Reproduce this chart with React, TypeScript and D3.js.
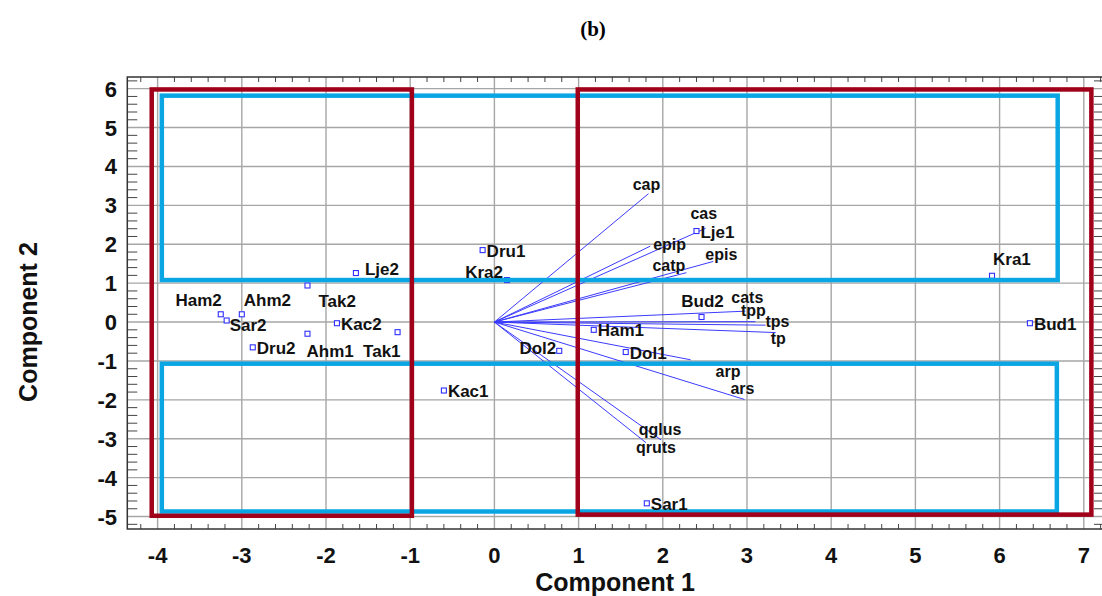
import React from "react";
import * as d3 from "d3";

// PCA biplot, panel (b)
const sampleNames = ["Ham2", "Sar2", "Ahm2", "Tak2", "Lje2", "Kac2", "Ahm1", "Tak1", "Dru2", "Kac1", "Dru1", "Kra2", "Lje1", "Bud2", "Ham1", "Dol2", "Dol1", "Kra1", "Bud1", "Sar1"];
const pc1 = [-3.25, -3.18, -3.0, -2.22, -1.645, -1.87, -2.22, -1.15, -2.87, -0.6, -0.14, 0.15, 2.4, 2.46, 1.18, 0.77, 1.56, 5.91, 6.36, 1.81];
const pc2 = [0.2, 0.04, 0.2, 0.94, 1.26, -0.03, -0.3, -0.26, -0.65, -1.76, 1.85, 1.08, 2.34, 0.13, -0.2, -0.74, -0.77, 1.19, -0.03, -4.66];

const vectorNames = ["cap", "cas", "epip", "catp", "epis", "cats", "tpp", "tps", "tp", "arp", "ars", "qglus", "qruts"];
const loadX = [1.83, 2.51, 1.85, 2.28, 2.6, 2.98, 3.1, 3.22, 3.34, 2.33, 2.97, 1.98, 1.8];
const loadY = [3.3, 2.41, 1.95, 1.27, 1.56, 0.28, 0.01, -0.08, -0.27, -0.97, -1.99, -3.03, -3.1];

// boxes: [x0, x1, y0, y1]
const redBoxes = [[-4.07, -0.98, -4.98, 5.98], [0.99, 7.09, -4.95, 5.98]];
const blueBoxes = [[-3.95, 6.69, 1.08, 5.82], [-3.95, 6.68, -4.87, -1.07]];

const xTicks = [-4, -3, -2, -1, 0, 1, 2, 3, 4, 5, 6, 7];
const yTicks = [6, 5, 4, 3, 2, 1, 0, -1, -2, -3, -4, -5];

// label placement [dx, dy, anchor]
const sampleLabel: Record<string, [number, number, string]> = {
  Ham2: [1, -8, "end"],
  Ahm2: [2, -8, "start"],
  Sar2: [3, 10, "start"],
  Tak2: [11, 22, "start"],
  Lje2: [9, 2, "start"],
  Ahm1: [-1, 23, "start"],
  Tak1: [3, 25, "end"],
  Kra2: [-4, -2, "end"],
  Bud2: [1, -10, "middle"],
  Dol2: [-3, 3, "end"],
  Kra1: [1, -11, "start"],
};
const vectorLabel: Record<string, [number, number, string]> = {
  cap: [-2, -4, "middle"],
  cas: [-2, -9, "middle"],
  epip: [3, 4, "start"],
  catp: [-1, -2, "end"],
  epis: [-8, -1, "start"],
  cats: [2, -8, "middle"],
  tpp: [-2, -6, "middle"],
  tps: [0, 2, "start"],
  tp: [-5, 11, "start"],
  arp: [25, 17, "start"],
  ars: [-2, -5, "middle"],
  qglus: [-1, -5, "middle"],
  qruts: [10, 10, "middle"],
};

const W = 1102;
const H = 596;
const font = "'Liberation Sans', Arial, sans-serif";

export default function App() {
  const x = d3.scaleLinear().domain([-4.36, 7.24]).range([127.3, 1104]);
  const y = d3.scaleLinear().domain([-5.32, 6.3]).range([529, 77]);
  const [x0, x1] = x.range();
  const [y0, y1] = y.range();

  const minorX = d3.range(-4.2, 7.21, 0.2).filter((v) => Math.abs(v - Math.round(v)) > 0.01);
  const minorY = d3.range(-5.2, 6.21, 0.2).filter((v) => Math.abs(v - Math.round(v)) > 0.01);

  const box = (b: number[], color: string, i: number) => (
    <rect
      key={color + i}
      x={x(b[0])}
      y={y(b[3])}
      width={x(b[1]) - x(b[0])}
      height={y(b[2]) - y(b[3])}
      fill="none"
      stroke={color}
      strokeWidth={4.5}
    />
  );

  return (
    <div style={{ position: "absolute", left: 0, top: 0 }}>
      <svg width={W} height={H} style={{ display: "block", background: "#fff" }}>
        <text x={593} y={36} textAnchor="middle" fontFamily="'Liberation Serif', 'Times New Roman', serif" fontWeight="bold" fontSize={21}>
          (b)
        </text>

        {/* grid */}
        {xTicks.map((t) => (
          <line key={"gx" + t} x1={x(t)} x2={x(t)} y1={y0} y2={y1} stroke="#a6a6a6" strokeWidth={1.4} />
        ))}
        {yTicks.map((t) => (
          <line key={"gy" + t} x1={x0} x2={x1} y1={y(t)} y2={y(t)} stroke="#a6a6a6" strokeWidth={1.4} />
        ))}

        {/* minor ticks, inward */}
        {minorX.map((t) => (
          <g key={"mx" + t}>
            <line x1={x(t)} x2={x(t)} y1={y1} y2={y1 + 5} stroke="#444" strokeWidth={1} />
            <line x1={x(t)} x2={x(t)} y1={y0} y2={y0 - 5} stroke="#444" strokeWidth={1} />
          </g>
        ))}
        {minorY.map((t) => (
          <g key={"my" + t}>
            <line x1={x0} x2={x0 + 10} y1={y(t)} y2={y(t)} stroke="#444" strokeWidth={1} />
            <line x1={x1} x2={x1 - 10} y1={y(t)} y2={y(t)} stroke="#444" strokeWidth={1} />
          </g>
        ))}

        <rect x={x0} y={y1} width={x1 - x0} height={y0 - y1} fill="none" stroke="#333" strokeWidth={1.5} />

        {/* loading vectors */}
        {vectorNames.map((n, i) => (
          <line key={"v" + n} x1={x(0)} y1={y(0)} x2={x(loadX[i])} y2={y(loadY[i])} stroke="#3b3bff" strokeWidth={1} />
        ))}

        {/* scores */}
        {sampleNames.map((n, i) => (
          <rect key={"p" + n} x={x(pc1[i]) - 2.5} y={y(pc2[i]) - 2.5} width={5} height={5} fill="#fff" stroke="#2f2fff" strokeWidth={1.1} />
        ))}

        {/* boxes */}
        {blueBoxes.map((b, i) => box(b, "#0aa6e4", i))}
        {redBoxes.map((b, i) => box(b, "#a0001a", i))}

        {vectorNames.map((n, i) => {
          const o = vectorLabel[n] || [0, 0, "start"];
          return (
            <text key={"vl" + n} x={x(loadX[i]) + o[0]} y={y(loadY[i]) + o[1]} textAnchor={o[2]} fontFamily={font} fontWeight="bold" fontSize={16} fill="#111">
              {n}
            </text>
          );
        })}
        {sampleNames.map((n, i) => {
          const o = sampleLabel[n] || [4, 6.5, "start"];
          return (
            <text key={"pl" + n} x={x(pc1[i]) + o[0]} y={y(pc2[i]) + o[1]} textAnchor={o[2]} fontFamily={font} fontWeight="bold" fontSize={17} fill="#111">
              {n}
            </text>
          );
        })}

        {/* tick labels */}
        {xTicks.map((t) => (
          <text key={"tx" + t} x={x(t)} y={563} textAnchor="middle" fontFamily={font} fontWeight="bold" fontSize={22} fill="#111">
            {t}
          </text>
        ))}
        {yTicks.map((t) => (
          <text key={"ty" + t} x={117} y={y(t) + 8} textAnchor="end" fontFamily={font} fontWeight="bold" fontSize={22} fill="#111">
            {t}
          </text>
        ))}

        <text x={615} y={591} textAnchor="middle" fontFamily={font} fontWeight="bold" fontSize={25} fill="#111">
          Component 1
        </text>
        <text transform={`translate(37, ${y(0)}) rotate(-90)`} textAnchor="middle" fontFamily={font} fontWeight="bold" fontSize={25} fill="#111">
          Component 2
        </text>
      </svg>
    </div>
  );
}
